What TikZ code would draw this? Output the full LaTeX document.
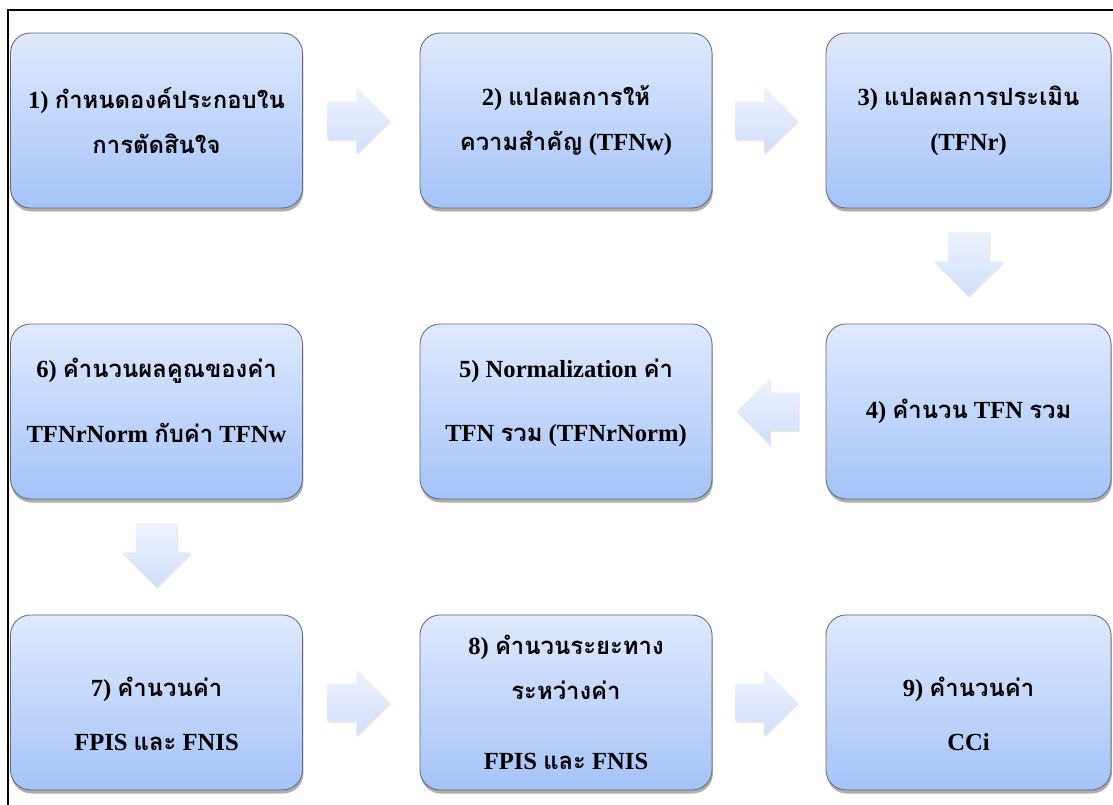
\documentclass[tikz,border=0pt]{standalone}
\usepackage{fontspec}
\setmainfont{Liberation Serif}
\newfontfamily\thaifont[Script=Thai,Scale=0.97]{Loma}
\usetikzlibrary{positioning,calc,shapes.arrows,shadows}
\definecolor{box100}{HTML}{DFE9FD}
\definecolor{box300}{HTML}{A5C3F8}
\definecolor{boxline}{HTML}{5F6B7A}
\definecolor{arr100}{HTML}{EEF3FE}
\definecolor{arr200}{HTML}{D0DEFA}
\newcommand{\tha}[1]{{\thaifont #1}}
\newcommand{\lowr}{\rule{0pt}{30pt}}
\newcommand{\upr}{\rule[-16pt]{0pt}{0pt}}
\tikzset{
  stepbox/.style={draw=boxline, line width=0.6pt, top color=box100,
                  bottom color=box300, rounded corners=0.5cm,
                  minimum width=7.3cm, minimum height=4.375cm,
                  align=center, inner sep=4pt,
                  font=\bfseries\fontsize{17.5}{32}\selectfont,
                  drop shadow={shadow xshift=0.6pt, shadow yshift=-2.5pt,
                               opacity=0.45, fill=black!70}},
  blk/.style    ={single arrow, draw=none, top color=arr100,
                  bottom color=arr200, inner xsep=0pt, inner ysep=0.465cm,
                  minimum height=1.55cm,
                  single arrow head extend=0.36cm,
                  drop shadow={shadow xshift=0.8pt, shadow yshift=-1.2pt,
                               opacity=0.2}},
  blkdown/.style={blk, shape border rotate=270, inner xsep=0.5cm,
                  inner ysep=0pt, minimum height=1.6cm}
}
\begin{document}
\begin{tikzpicture}
\useasboundingbox (0,0) rectangle (27.825,20.125);
\draw[line width=1.4pt] (0.2,0) -- (0.2,19.875) -- (27.825,19.875);
% three rows of three, read as a snake
\node[stepbox] (elem)  at (3.9125,17.1125)
  {1) \tha{กำหนดองค์ประกอบใน}\\ \tha{การตัดสินใจ}};
\node[stepbox] (wgt)   at (14.15,17.1125)
  {2) \tha{แปลผลการให้}\\ \tha{ความสำคัญ} (TFNw)};
\node[stepbox, minimum width=7.125cm] (rate) at (24.2125,17.1125)
  {3) \tha{แปลผลการประเมิน}\\ (TFNr)};
\node[stepbox, minimum width=7.125cm] (tfn)  at (24.2125,9.8375)
  {4) \tha{คำนวน} TFN \tha{รวม}};
\node[stepbox] (norm)  at (14.15,9.8375)
  {5) Normalization \tha{ค่า}\\[14pt] TFN \tha{รวม} (TFNrNorm)\upr};
\node[stepbox] (prod)  at (3.9125,9.8375)
  {6) \tha{คำนวนผลคูณของค่า}\\[14pt] TFNrNorm \tha{กับค่า} TFNw\upr};
\node[stepbox] (ideal) at (3.9125,2.5625)
  {\lowr 7) \tha{คำนวนค่า}\\[7pt] FPIS \tha{และ} FNIS};
\node[stepbox] (dist)  at (14.15,2.5625)
  {8) \tha{คำนวนระยะทาง}\\ \tha{ระหว่างค่า}\\[18pt] FPIS \tha{และ} FNIS};
\node[stepbox, minimum width=7.125cm] (cci) at (24.2125,2.5625)
  {\lowr 9) \tha{คำนวนค่า}\\[7pt] CCi};

\node[blk] (a12) at ($(elem.east)!0.5!(wgt.west)+(-0.3,0)$) {};
\node[blk] (a23) at ($(wgt.east)!0.5!(rate.west)+(-0.3,0)$) {};
\node[blkdown] (a34) at ($(rate.south)!0.5!(tfn.north)+(0,0.3)$) {};
\node[blk, shape border rotate=180] (a45) at ($(tfn.west)!0.5!(norm.east)+(0.2,0)$) {};
\node[blkdown] (a67) at ($(prod.south)!0.5!(ideal.north)+(0,0.3)$) {};
\node[blk] (a78) at ($(ideal.east)!0.5!(dist.west)+(-0.3,0)$) {};
\node[blk] (a89) at ($(dist.east)!0.5!(cci.west)+(-0.3,0)$) {};
\end{tikzpicture}
\end{document}
